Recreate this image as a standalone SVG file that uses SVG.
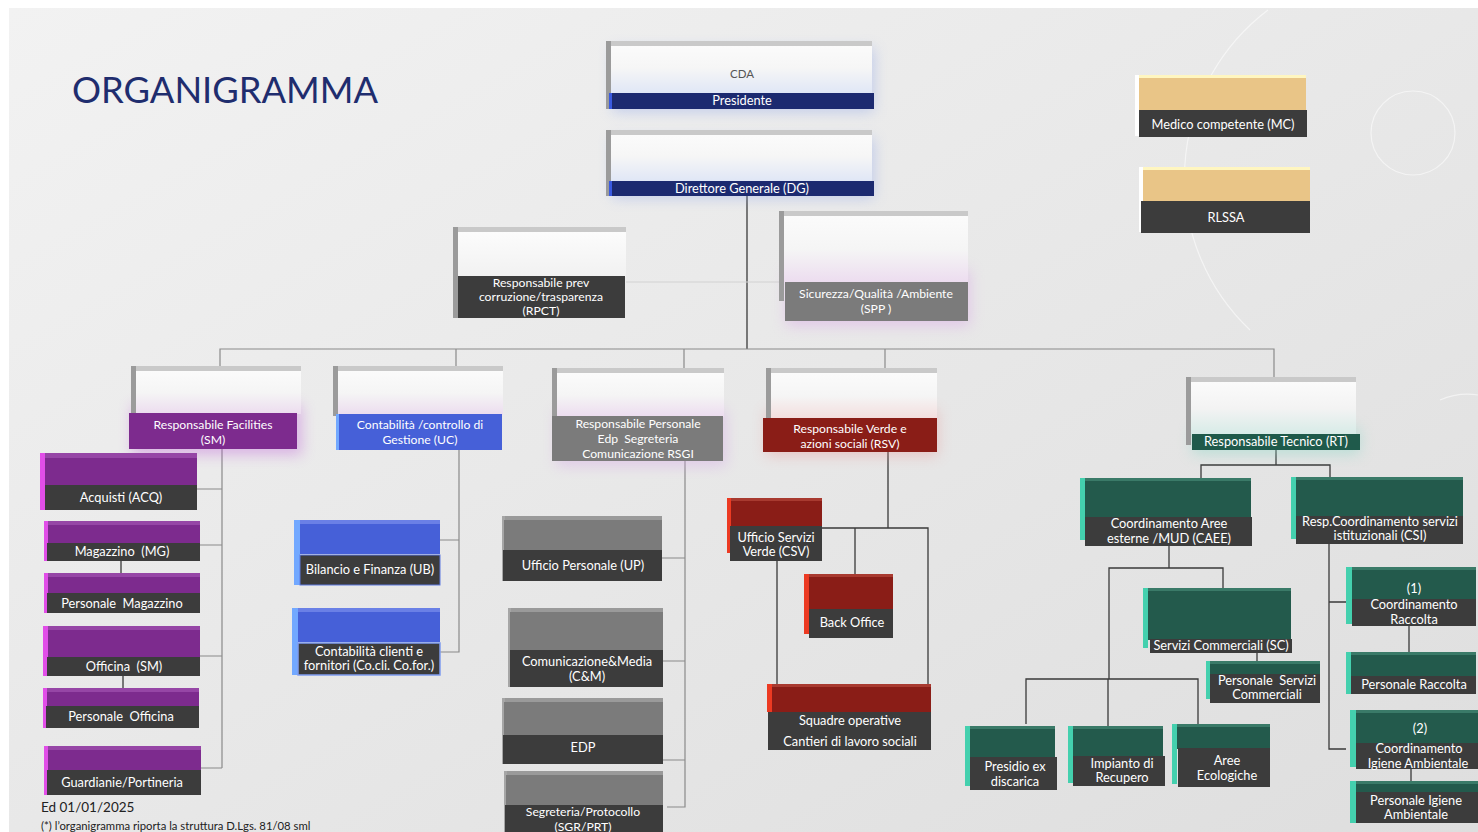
<svg xmlns="http://www.w3.org/2000/svg" width="1478" height="832" viewBox="0 0 1478 832">
<defs>
<linearGradient id="bg" x1="0" y1="0" x2="1" y2="1">
<stop offset="0" stop-color="#f2f2f2"/><stop offset="1" stop-color="#dedede"/>
</linearGradient>
<linearGradient id="gBlue" x1="0" y1="0" x2="0" y2="1"><stop offset="0" stop-color="#fbfbfb"/><stop offset="0.45" stop-color="#f6f6f6"/><stop offset="1" stop-color="#dfe6f6"/></linearGradient>
<linearGradient id="gPink" x1="0" y1="0" x2="0" y2="1"><stop offset="0" stop-color="#fbfbfb"/><stop offset="0.5" stop-color="#f5f5f5"/><stop offset="1" stop-color="#ecdcef"/></linearGradient>
<linearGradient id="gRed" x1="0" y1="0" x2="0" y2="1"><stop offset="0" stop-color="#fbfbfb"/><stop offset="0.5" stop-color="#f5f5f5"/><stop offset="1" stop-color="#f3dddd"/></linearGradient>
<linearGradient id="gMint" x1="0" y1="0" x2="0" y2="1"><stop offset="0" stop-color="#fbfbfb"/><stop offset="0.5" stop-color="#f3f3f3"/><stop offset="1" stop-color="#d6ebe7"/></linearGradient>
<linearGradient id="gWhite" x1="0" y1="0" x2="0" y2="1"><stop offset="0" stop-color="#fcfcfc"/><stop offset="1" stop-color="#f1f1f1"/></linearGradient>
<filter id="glow" x="-30%" y="-50%" width="160%" height="200%"><feGaussianBlur stdDeviation="7"/></filter>
</defs>
<style>
.t{font-family:Lato,"Open Sans","Liberation Sans",sans-serif;font-size:12.8px;fill:#ffffff;text-anchor:middle}
.s{font-size:12.2px}
.c{stroke:#3a3a3a;stroke-width:1.3;fill:none}
.cg{stroke:#8a8a8a;stroke-width:1.2;fill:none}
.bev{fill:#c9c9c9}
.side{fill:#9b9b9b}
.bar{fill:#3c3c3c}
.pu{fill:#7d2b8e}.puS{fill:#e14ee8}.puB{fill:#9646a6}
.bl{fill:#4660d8}.blS{fill:#72a8ff}.blB{fill:#6a80e6}
.gr{fill:#7b7b7b}.grS{fill:#a6a6a6}.grB{fill:#9a9a9a}
.rd{fill:#8a1d17}.rdS{fill:#ec3a22}.rdB{fill:#a83a30}
.te{fill:#235a4c}.teS{fill:#44d0ae}.teB{fill:#3a7a68}
.tan{fill:#e9c587}
</style>

<rect x="0" y="0" width="1478" height="832" fill="#ffffff"/>
<rect x="9" y="8" width="1469" height="824" fill="url(#bg)"/>
<g fill="none" stroke="#ffffff" stroke-opacity="0.55" stroke-width="1.2">
<circle cx="1413" cy="133" r="42"/>
<path d="M1268 10 A210 210 0 0 0 1250 330"/>
<path d="M1440 400 A70 70 0 0 1 1478 395"/>
</g>

<text x="72" y="103" style="font-family:Lato,'Open Sans',sans-serif;font-size:36.3px;fill:#1f2d6e">ORGANIGRAMMA</text>

<g id="connectors">
<path class="c" d="M747 196V349"/>
<path class="cg" d="M220 366V349H1274V378M456 349V366M684 349V369M885 349V369"/>
<path d="M626 282H785" stroke="#d2d2d2" stroke-width="1.2"/>
<path class="cg" d="M222 449V768M197 489H222M200 545H222M200 656H222M201 768H222"/>
<path class="c" d="M121 561V578M123 676V690"/>
<path class="cg" d="M459 450V652H440M440 540H459"/>
<path class="cg" d="M685 461V807H667M662 558H685M663 661H685M663 760H685"/>
<path class="c" d="M888 452V528M822 528H928V686M855 528V575M777 561V686"/>
<path class="c" d="M1276 450V465M1201 478V465H1330V477"/>
<path class="c" d="M1169 546V568M1109 679V568H1223V590M1026 724V679H1198V724M1108 679V734"/>
<path class="c" d="M1257 653V665"/>
<path class="c" d="M1329 544V749H1346M1329 602H1347"/>
<path class="c" d="M1409 626V652M1411 765V784"/>
</g>

<g id="cda">
<rect x="612" y="48" width="262" height="64" fill="#8fa6e8" opacity="0.45" filter="url(#glow)"/>
<rect class="bev" x="606" y="41" width="266" height="6"/>
<rect class="side" x="606" y="41" width="5" height="68"/>
<rect x="611" y="46" width="261" height="48" fill="url(#gBlue)"/>
<rect x="609" y="93" width="265" height="16" fill="#1c2a70"/>
<rect x="609" y="93" width="3" height="16" fill="#3a5ae0"/>
<text class="t" x="742" y="78" style="fill:#555;font-size:11.5px">CDA</text>
<text class="t" x="742" y="105">Presidente</text>
</g>

<g id="dg">
<rect x="612" y="138" width="262" height="60" fill="#8fa6e8" opacity="0.45" filter="url(#glow)"/>
<rect class="bev" x="606" y="130" width="266" height="6"/>
<rect class="side" x="606" y="130" width="5" height="66"/>
<rect x="611" y="135" width="261" height="47" fill="url(#gBlue)"/>
<rect x="609" y="181" width="265" height="15" fill="#1c2a70"/>
<rect x="609" y="181" width="3" height="15" fill="#3a5ae0"/>
<text class="t" x="742" y="193">Direttore Generale (DG)</text>
</g>

<g id="rpct">
<rect class="bev" x="453" y="227" width="173" height="6"/>
<rect class="side" x="453" y="227" width="5" height="91"/>
<rect x="458" y="232" width="168" height="45" fill="url(#gWhite)"/>
<rect class="bar" x="458" y="276" width="167" height="42"/>
<text class="t s" x="541" y="287">Responsabile prev</text>
<text class="t s" x="541" y="301">corruzione/trasparenza</text>
<text class="t s" x="541" y="315">(RPCT)</text>
</g>

<g id="spp">
<rect x="786" y="270" width="184" height="56" fill="#d9a6e6" opacity="0.5" filter="url(#glow)"/>
<rect class="bev" x="779" y="211" width="189" height="6"/>
<rect class="side" x="779" y="211" width="5" height="90"/>
<rect x="784" y="216" width="184" height="67" fill="url(#gPink)"/>
<rect x="785" y="282" width="183" height="39" fill="#7b7b7b"/>
<text class="t s" x="876" y="298">Sicurezza/Qualità /Ambiente</text>
<text class="t s" x="876" y="313" xml:space="preserve">(SPP )</text>
</g>

<g id="mc">
<rect x="1135" y="75" width="171" height="4" fill="#fff6c0"/>
<rect x="1135" y="75" width="4" height="61" fill="#ffffff"/>
<rect class="tan" x="1139" y="78" width="167" height="33"/>
<rect class="bar" x="1139" y="110" width="168" height="27"/>
<text class="t" x="1223" y="129">Medico competente (MC)</text>
</g>

<g id="rlssa">
<rect x="1139" y="167" width="171" height="4" fill="#fff6c0"/>
<rect x="1139" y="167" width="4" height="65" fill="#ffffff"/>
<rect class="tan" x="1143" y="170" width="167" height="32"/>
<rect class="bar" x="1141" y="201" width="169" height="32"/>
<text class="t" x="1226" y="222">RLSSA</text>
</g>

<g id="sm">
<rect x="132" y="405" width="170" height="50" fill="#c060d8" opacity="0.4" filter="url(#glow)"/>
<rect class="bev" x="131" y="366" width="170" height="6"/>
<rect class="side" x="131" y="366" width="5" height="48"/>
<rect x="136" y="371" width="165" height="43" fill="url(#gPink)"/>
<rect class="pu" x="129" y="413" width="168" height="36"/>
<text class="t s" x="213" y="429">Responsabile Facilities</text>
<text class="t s" x="213" y="444">(SM)</text>
</g>

<g id="uc">
<rect class="bev" x="333" y="366" width="170" height="6"/>
<rect class="side" x="333" y="366" width="5" height="50"/>
<rect x="338" y="371" width="165" height="44" fill="url(#gPink)"/>
<rect class="bl" x="336" y="414" width="166" height="36"/>
<rect class="blS" x="336" y="414" width="3" height="36"/>
<text class="t s" x="420" y="429">Contabilità /controllo di</text>
<text class="t s" x="420" y="444">Gestione (UC)</text>
</g>

<g id="rsgi">
<rect x="556" y="410" width="170" height="56" fill="#d5a6e6" opacity="0.45" filter="url(#glow)"/>
<rect class="bev" x="552" y="368" width="172" height="6"/>
<rect class="side" x="552" y="368" width="5" height="48"/>
<rect x="557" y="373" width="167" height="44" fill="url(#gPink)"/>
<rect class="gr" x="552" y="416" width="171" height="45"/>
<text class="t s" x="638" y="428">Responsabile Personale</text>
<text class="t s" x="638" y="443" xml:space="preserve">Edp  Segreteria</text>
<text class="t s" x="638" y="458">Comunicazione RSGI</text>
</g>

<g id="rsv">
<rect x="766" y="410" width="172" height="46" fill="#e89090" opacity="0.4" filter="url(#glow)"/>
<rect class="bev" x="766" y="368" width="171" height="6"/>
<rect class="side" x="766" y="368" width="5" height="50"/>
<rect x="771" y="373" width="166" height="46" fill="url(#gRed)"/>
<rect class="rd" x="763" y="418" width="174" height="34"/>
<text class="t s" x="850" y="433">Responsabile Verde e</text>
<text class="t s" x="850" y="448">azioni sociali (RSV)</text>
</g>

<g id="rt">
<rect x="1192" y="428" width="168" height="26" fill="#8fd8c8" opacity="0.5" filter="url(#glow)"/>
<rect class="bev" x="1186" y="377" width="170" height="6"/>
<rect class="side" x="1186" y="377" width="5" height="68"/>
<rect x="1191" y="382" width="165" height="53" fill="url(#gMint)"/>
<rect x="1192" y="434" width="168" height="16" fill="#1f5a4b"/>
<text class="t" x="1276" y="446">Responsabile Tecnico (RT)</text>
</g>

<g id="acq">
<rect class="puB" x="40" y="453" width="157" height="5"/>
<rect class="puS" x="40" y="453" width="5" height="57"/>
<rect class="pu" x="45" y="458" width="152" height="27"/>
<rect class="bar" x="45" y="485" width="152" height="25"/>
<text class="t" x="121" y="502">Acquisti (ACQ)</text>
</g>
<g id="mg">
<rect class="puB" x="44" y="521" width="156" height="5"/>
<rect class="puS" x="44" y="521" width="4" height="40"/>
<rect class="pu" x="48" y="525" width="152" height="19"/>
<rect class="bar" x="47" y="543" width="153" height="18"/>
<text class="t" x="122" y="556" xml:space="preserve">Magazzino  (MG)</text>
</g>
<g id="pm">
<rect class="puB" x="44" y="573" width="156" height="5"/>
<rect class="puS" x="44" y="573" width="4" height="40"/>
<rect class="pu" x="48" y="577" width="152" height="17"/>
<rect class="bar" x="47" y="593" width="153" height="20"/>
<text class="t" x="122" y="608" xml:space="preserve">Personale  Magazzino</text>
</g>
<g id="off">
<rect class="puB" x="43" y="626" width="157" height="5"/>
<rect class="puS" x="43" y="626" width="5" height="50"/>
<rect class="pu" x="48" y="630" width="152" height="28"/>
<rect class="bar" x="47" y="657" width="153" height="19"/>
<text class="t" x="124" y="671" xml:space="preserve">Officina  (SM)</text>
</g>
<g id="po">
<rect class="puB" x="43" y="688" width="156" height="5"/>
<rect class="puS" x="43" y="688" width="4" height="40"/>
<rect class="pu" x="47" y="692" width="152" height="15"/>
<rect class="bar" x="46" y="706" width="153" height="22"/>
<text class="t" x="121" y="721" xml:space="preserve">Personale  Officina</text>
</g>
<g id="guard">
<rect class="puB" x="44" y="746" width="157" height="5"/>
<rect class="puS" x="44" y="746" width="4" height="49"/>
<rect class="pu" x="48" y="750" width="153" height="21"/>
<rect class="bar" x="47" y="770" width="154" height="25"/>
<text class="t" x="122" y="787">Guardianie/Portineria</text>
</g>

<g id="ub">
<rect class="blB" x="294" y="520" width="146" height="5"/>
<rect class="blS" x="294" y="520" width="6" height="65"/>
<rect class="bl" x="300" y="524" width="140" height="30"/>
<rect x="300" y="555" width="140" height="30" fill="#3c3c3c" stroke="#5c78e0" stroke-width="1"/>
<text class="t" x="370" y="574">Bilancio e Finanza (UB)</text>
</g>
<g id="cocli">
<rect class="blB" x="292" y="608" width="148" height="5"/>
<rect class="blS" x="292" y="608" width="6" height="67"/>
<rect class="bl" x="298" y="612" width="142" height="30"/>
<rect x="298" y="643" width="142" height="32" fill="#3c3c3c" stroke="#7f9cf0" stroke-width="1.5"/>
<text class="t" x="369" y="656">Contabilità clienti e</text>
<text class="t" x="369" y="670">fornitori (Co.cli. Co.for.)</text>
</g>

<g id="up">
<rect class="grB" x="502" y="516" width="160" height="5"/>
<rect class="grS" x="502" y="516" width="3" height="65"/>
<rect class="gr" x="504" y="520" width="158" height="31"/>
<rect class="bar" x="503" y="550" width="159" height="31"/>
<text class="t" x="583" y="570">Ufficio Personale (UP)</text>
</g>
<g id="cm">
<rect class="grB" x="508" y="608" width="155" height="5"/>
<rect class="grS" x="508" y="608" width="3" height="79"/>
<rect class="gr" x="510" y="612" width="153" height="39"/>
<rect class="bar" x="510" y="650" width="153" height="37"/>
<text class="t" x="587" y="666">Comunicazione&amp;Media</text>
<text class="t" x="587" y="681">(C&amp;M)</text>
</g>
<g id="edp">
<rect class="grB" x="502" y="698" width="161" height="5"/>
<rect class="grS" x="502" y="698" width="3" height="66"/>
<rect class="gr" x="504" y="702" width="159" height="34"/>
<rect class="bar" x="503" y="735" width="160" height="29"/>
<text class="t" x="583" y="752">EDP</text>
</g>
<g id="sgr">
<rect class="grB" x="504" y="771" width="159" height="5"/>
<rect class="grS" x="504" y="771" width="3" height="61"/>
<rect class="gr" x="506" y="775" width="157" height="31"/>
<rect class="bar" x="505" y="805" width="158" height="27"/>
<text class="t s" x="583" y="816">Segreteria/Protocollo</text>
<text class="t s" x="583" y="831">(SGR/PRT)</text>
</g>

<g id="csv">
<rect class="rdB" x="727" y="498" width="95" height="4"/>
<rect class="rdS" x="727" y="498" width="4" height="55"/>
<rect class="rd" x="731" y="501" width="91" height="26"/>
<rect class="bar" x="730" y="526" width="92" height="35"/>
<text class="t" x="776" y="542">Ufficio Servizi</text>
<text class="t" x="776" y="556">Verde (CSV)</text>
</g>
<g id="bo">
<rect class="rdB" x="804" y="574" width="89" height="4"/>
<rect class="rdS" x="804" y="574" width="5" height="60"/>
<rect class="rd" x="809" y="577" width="84" height="33"/>
<rect class="bar" x="809" y="609" width="84" height="29"/>
<text class="t" x="852" y="627">Back Office</text>
</g>
<g id="squadre">
<rect class="rdB" x="767" y="684" width="164" height="4"/>
<rect class="rdS" x="767" y="684" width="5" height="28"/>
<rect class="rd" x="772" y="687" width="159" height="26"/>
<rect class="bar" x="768" y="712" width="163" height="38"/>
<text class="t" x="850" y="725">Squadre operative</text>
<text class="t" x="850" y="746">Cantieri di lavoro sociali</text>
</g>

<g id="caee">
<rect class="teB" x="1080" y="478" width="171" height="4"/>
<rect class="teS" x="1080" y="478" width="5" height="62"/>
<rect class="te" x="1085" y="481" width="166" height="37"/>
<rect class="bar" x="1085" y="517" width="167" height="29"/>
<text class="t" x="1169" y="528">Coordinamento Aree</text>
<text class="t" x="1169" y="543">esterne /MUD (CAEE)</text>
</g>
<g id="csi">
<rect class="teB" x="1291" y="477" width="172" height="4"/>
<rect class="teS" x="1291" y="477" width="5" height="62"/>
<rect class="te" x="1296" y="480" width="167" height="37"/>
<rect class="bar" x="1296" y="516" width="167" height="28"/>
<text class="t" x="1380" y="526">Resp.Coordinamento servizi</text>
<text class="t" x="1380" y="540">istituzionali (CSI)</text>
</g>
<g id="sc">
<rect class="teB" x="1143" y="588" width="148" height="4"/>
<rect class="teS" x="1143" y="588" width="5" height="60"/>
<rect class="te" x="1148" y="591" width="143" height="49"/>
<rect class="bar" x="1150" y="639" width="142" height="14"/>
<text class="t" x="1221" y="650">Servizi Commerciali (SC)</text>
</g>
<g id="psc">
<rect class="teB" x="1206" y="661" width="114" height="4"/>
<rect class="teS" x="1206" y="661" width="4" height="38"/>
<rect class="te" x="1210" y="664" width="110" height="11"/>
<rect class="bar" x="1210" y="674" width="110" height="29"/>
<text class="t" x="1267" y="685" xml:space="preserve">Personale  Servizi</text>
<text class="t" x="1267" y="699">Commerciali</text>
</g>
<g id="presidio">
<rect class="teB" x="965" y="726" width="90" height="4"/>
<rect class="teS" x="965" y="726" width="5" height="60"/>
<rect class="te" x="970" y="729" width="85" height="29"/>
<rect class="bar" x="970" y="757" width="87" height="33"/>
<text class="t" x="1015" y="771">Presidio ex</text>
<text class="t" x="1015" y="786">discarica</text>
</g>
<g id="impianto">
<rect class="teB" x="1068" y="726" width="95" height="4"/>
<rect class="teS" x="1068" y="726" width="5" height="57"/>
<rect class="te" x="1073" y="729" width="90" height="28"/>
<rect class="bar" x="1073" y="756" width="92" height="30"/>
<text class="t" x="1122" y="768">Impianto di</text>
<text class="t" x="1122" y="782">Recupero</text>
</g>
<g id="aree">
<rect class="teB" x="1172" y="724" width="98" height="4"/>
<rect class="teS" x="1172" y="724" width="5" height="60"/>
<rect class="te" x="1177" y="727" width="93" height="22"/>
<rect class="bar" x="1178" y="748" width="92" height="39"/>
<text class="t" x="1227" y="765">Aree</text>
<text class="t" x="1227" y="780">Ecologiche</text>
</g>
<g id="cr">
<rect class="teB" x="1346" y="567" width="130" height="4"/>
<rect class="teS" x="1346" y="567" width="6" height="57"/>
<rect class="te" x="1352" y="570" width="124" height="31"/>
<rect class="bar" x="1352" y="599" width="124" height="27"/>
<text class="t" x="1414" y="593">(1)</text>
<text class="t" x="1414" y="609">Coordinamento</text>
<text class="t" x="1414" y="624">Raccolta</text>
</g>
<g id="pr">
<rect class="teB" x="1346" y="652" width="130" height="4"/>
<rect class="teS" x="1346" y="652" width="5" height="42"/>
<rect class="te" x="1351" y="655" width="125" height="22"/>
<rect class="bar" x="1351" y="676" width="125" height="18"/>
<text class="t" x="1414" y="689">Personale Raccolta</text>
</g>
<g id="cia">
<rect class="teB" x="1350" y="710" width="128" height="4"/>
<rect class="teS" x="1350" y="710" width="6" height="57"/>
<rect class="te" x="1356" y="713" width="122" height="31"/>
<rect class="bar" x="1356" y="743" width="122" height="26"/>
<text class="t" x="1420" y="733">(2)</text>
<text class="t" x="1419" y="753">Coordinamento</text>
<text class="t" x="1418" y="768">Igiene Ambientale</text>
</g>
<g id="pia">
<rect class="teB" x="1350" y="781" width="128" height="4"/>
<rect class="teS" x="1350" y="781" width="6" height="42"/>
<rect class="te" x="1356" y="784" width="122" height="9"/>
<rect class="bar" x="1356" y="792" width="122" height="31"/>
<text class="t" x="1416" y="805">Personale Igiene</text>
<text class="t" x="1416" y="819">Ambientale</text>
</g>

<text x="41" y="812" style="font-family:Lato,'Open Sans',sans-serif;font-size:13.5px;fill:#222">Ed 01/01/2025</text>
<text x="41" y="830" style="font-family:Lato,'Open Sans',sans-serif;font-size:11.3px;fill:#222">(*) l’organigramma riporta la struttura D.Lgs. 81/08 sml</text>
</svg>
